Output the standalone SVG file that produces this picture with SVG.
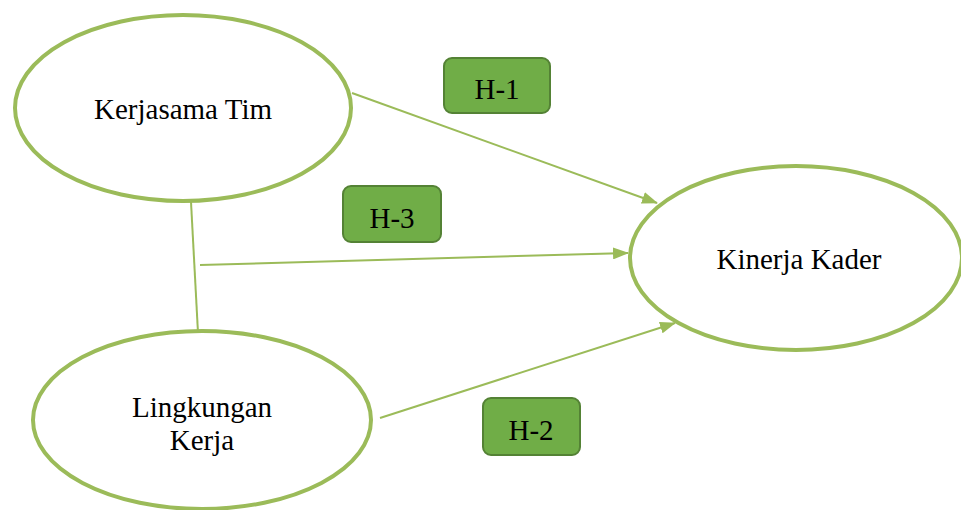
<svg xmlns="http://www.w3.org/2000/svg" width="961" height="510" viewBox="0 0 961 510">
  <style>
    .node { fill: #ffffff; stroke: #9BBB59; stroke-width: 4; }
    .label { font-family: "Liberation Serif", "Times New Roman", serif; font-size: 29px; fill: #000000; text-anchor: middle; }
    .hyp rect { fill: #70AD47; stroke: #548235; stroke-width: 2; }
    .link { stroke: #9BBB59; stroke-width: 2; fill: none; }
  </style>
  <defs>
    <marker id="arrow" markerUnits="userSpaceOnUse" markerWidth="16" markerHeight="12" refX="15" refY="6" orient="auto">
      <path d="M0,0 L16,6 L0,12 Z" fill="#9BBB59"/>
    </marker>
  </defs>
  <rect width="961" height="510" fill="#ffffff"/>

  <!-- connectors -->
  <g id="connectors">
    <line class="link" x1="191" y1="202" x2="198" y2="333"/>
    <line class="link" x1="352" y1="93" x2="657" y2="203" marker-end="url(#arrow)"/>
    <line class="link" x1="200" y1="265" x2="628" y2="253" marker-end="url(#arrow)"/>
    <line class="link" x1="380" y1="418" x2="675" y2="323" marker-end="url(#arrow)"/>
  </g>

  <!-- latent variables -->
  <g id="kerjasama-tim">
    <ellipse class="node" cx="183" cy="108" rx="168" ry="93"/>
    <text class="label" x="183" y="119">Kerjasama Tim</text>
  </g>
  <g id="lingkungan-kerja">
    <ellipse class="node" cx="202" cy="420" rx="169" ry="89"/>
    <text class="label" x="202" y="417">Lingkungan</text>
    <text class="label" x="202" y="450">Kerja</text>
  </g>
  <g id="kinerja-kader">
    <ellipse class="node" cx="796" cy="258" rx="166" ry="92"/>
    <text class="label" x="799" y="269">Kinerja Kader</text>
  </g>

  <!-- hypothesis tags -->
  <g id="h1" class="hyp">
    <rect x="444" y="58" width="106" height="55" rx="8"/>
    <text class="label" x="497" y="99">H-1</text>
  </g>
  <g id="h3" class="hyp">
    <rect x="343" y="186" width="98" height="56" rx="8"/>
    <text class="label" x="392" y="228">H-3</text>
  </g>
  <g id="h2" class="hyp">
    <rect x="483" y="398" width="97" height="57" rx="8"/>
    <text class="label" x="531" y="440">H-2</text>
  </g>
</svg>
